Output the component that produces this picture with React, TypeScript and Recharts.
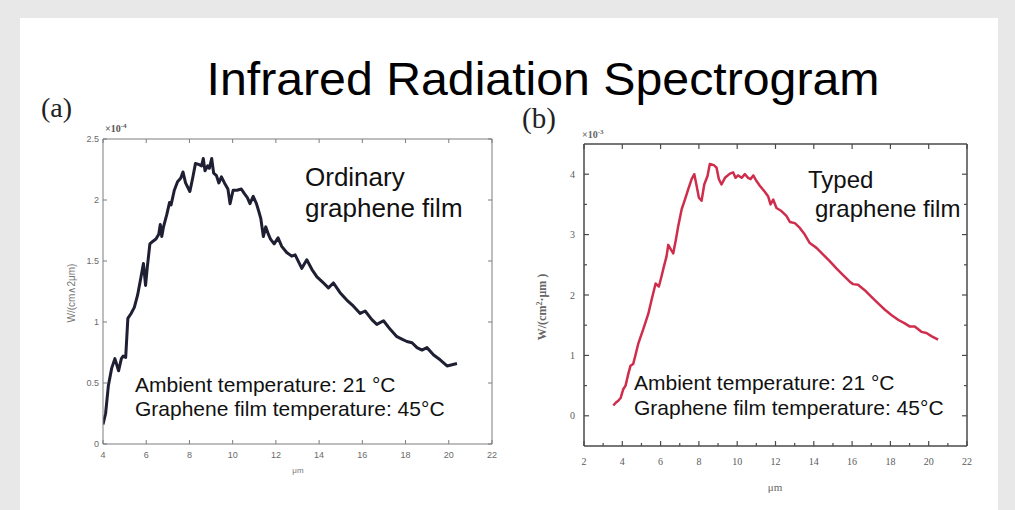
import { LineChart, Line, XAxis, YAxis } from "recharts"

// (a) ordinary graphene film, W/(cm^2 um) x 1e-4
const ordinaryUm = [
  4.0, 4.12, 4.25, 4.4, 4.55, 4.62, 4.72, 4.85, 4.93, 5.05, 5.15, 5.3, 5.45, 5.6, 5.75, 5.87, 5.97, 6.05,
  6.17, 6.3, 6.45, 6.58, 6.65, 6.72, 6.8, 6.95, 7.08, 7.15, 7.3, 7.45, 7.6, 7.7, 7.82, 8.02, 8.15, 8.28,
  8.45, 8.56, 8.64, 8.72, 8.84, 8.92, 9.03, 9.12, 9.25, 9.36, 9.48, 9.62, 9.78, 9.88, 10.02, 10.2, 10.4,
  10.55, 10.68, 10.8, 10.95, 11.1, 11.22, 11.3, 11.42, 11.53, 11.65, 11.75, 11.92, 12.1, 12.27, 12.5,
  12.73, 12.89, 13.2, 13.43, 13.67, 13.9, 14.2, 14.43, 14.66, 14.97, 15.28, 15.59, 15.9, 16.13, 16.44,
  16.67, 16.98, 17.29, 17.6, 17.83, 18.06, 18.3, 18.53, 18.76, 18.99, 19.3, 19.6, 19.92, 20.15, 20.38,
]
const ordinaryW = [
  0.16, 0.25, 0.48, 0.62, 0.7, 0.66, 0.6, 0.7, 0.72, 0.71, 1.03, 1.07, 1.12, 1.22, 1.36, 1.48, 1.3, 1.45,
  1.64, 1.66, 1.68, 1.72, 1.8, 1.7, 1.78, 1.88, 1.98, 1.96, 2.08, 2.15, 2.18, 2.23, 2.14, 2.07, 2.18, 2.3,
  2.29, 2.28, 2.34, 2.24, 2.28, 2.26, 2.34, 2.22, 2.2, 2.14, 2.19, 2.14, 2.09, 1.97, 2.08, 2.08, 2.09,
  2.05, 2.02, 1.97, 2.03, 1.97, 1.9, 1.85, 1.7, 1.78, 1.72, 1.68, 1.64, 1.69, 1.62, 1.57,
  1.54, 1.55, 1.44, 1.51, 1.43, 1.37, 1.32, 1.28, 1.32, 1.24, 1.18, 1.13, 1.07, 1.09, 1.02,
  0.98, 1.01, 0.94, 0.88, 0.86, 0.84, 0.83, 0.79, 0.77, 0.79, 0.73, 0.69, 0.64, 0.65, 0.66,
]

// (b) typed graphene film, W/(cm^2 um) x 1e-3
const typedUm = [
  3.53, 3.67, 3.79, 3.92, 4.05, 4.17, 4.31, 4.43, 4.57, 4.66, 4.83, 5.1, 5.36, 5.53, 5.74, 5.91, 6.05,
  6.17, 6.31, 6.4, 6.54, 6.66, 6.8, 6.92, 7.1, 7.27, 7.44, 7.62, 7.76, 7.88, 8.0, 8.14, 8.28, 8.45, 8.57,
  8.78, 8.92, 9.04, 9.18, 9.36, 9.62, 9.79, 9.91, 10.05, 10.23, 10.4, 10.57, 10.7, 10.84, 11.0, 11.18,
  11.44, 11.62, 11.74, 11.88, 12.05, 12.31, 12.57, 12.75, 13.01, 13.27, 13.53, 13.79, 14.14, 14.49,
  14.83, 15.18, 15.53, 15.88, 16.05, 16.31, 16.66, 17.01, 17.36, 17.7, 18.05, 18.4, 18.75, 19.0, 19.27,
  19.62, 19.88, 20.14, 20.49,
]
const typedW = [
  0.17, 0.22, 0.25, 0.3, 0.44, 0.5, 0.69, 0.83, 0.86, 0.97, 1.19, 1.44, 1.69, 1.92, 2.19, 2.14, 2.31,
  2.47, 2.64, 2.83, 2.75, 2.69, 2.92, 3.14, 3.42, 3.58, 3.75, 3.92, 4.0, 3.81, 3.61, 3.56, 3.83, 3.97, 4.17,
  4.15, 4.11, 3.92, 3.83, 3.94, 4.01, 4.03, 3.94, 3.98, 3.94, 4.0, 3.94, 3.92, 3.98, 3.89, 3.81,
  3.71, 3.63, 3.5, 3.58, 3.44, 3.39, 3.31, 3.21, 3.19, 3.11, 3.0, 2.86, 2.78, 2.67,
  2.56, 2.44, 2.33, 2.22, 2.18, 2.17, 2.08, 1.97, 1.86, 1.76, 1.67, 1.59, 1.53, 1.48, 1.48,
  1.39, 1.37, 1.32, 1.26,
]

const aXTicks = [4, 6, 8, 10, 12, 14, 16, 18, 20, 22]
const aYTicks = [0, 0.5, 1, 1.5, 2, 2.5]
const bXMajor = [2, 4, 6, 8, 10, 12, 14, 16, 18, 20, 22]
const bXTicks = [2, 3, 4, 5, 6, 7, 8, 9, 10, 11, 12, 13, 14, 15, 16, 17, 18, 19, 20, 21, 22]
const bYMajor = [0, 1, 2, 3, 4]
const bYTicks = [0, 0.5, 1, 1.5, 2, 2.5, 3, 3.5, 4]

const ordinaryData = ordinaryUm.map((x, i) => ({ x, y: ordinaryW[i] }))
const typedData = typedUm.map((x, i) => ({ x, y: typedW[i] }))

type Side = "bottom" | "top" | "left" | "right"

function boxTick(
  side: Side,
  majors: number[],
  color: string,
  width: number,
  majorLen: number,
  minorLen: number,
  label?: { font: string; size: number; fill: string; dx: number; dy: number; weight?: string }
) {
  return (props: any) => {
    const { x, y, payload } = props
    const v = payload.value
    const major = majors.includes(v)
    const len = major ? majorLen : minorLen
    let x2 = x
    let y2 = y
    if (side === "bottom") y2 = y - len
    if (side === "top") y2 = y + len
    if (side === "left") x2 = x + len
    if (side === "right") x2 = x - len
    return (
      <g>
        <line x1={x} y1={y} x2={x2} y2={y2} stroke={color} strokeWidth={width} />
        {label && major && (
          <text
            x={x + label.dx}
            y={y + label.dy}
            textAnchor={side === "left" ? "end" : "middle"}
            fontFamily={label.font}
            fontSize={label.size}
            fontWeight={label.weight ?? "normal"}
            fill={label.fill}
          >
            {v}
          </text>
        )}
      </g>
    )
  }
}

const SANS = "'Liberation Sans', Arial, sans-serif"
const SERIF = "'Liberation Serif', 'Times New Roman', serif"

function PanelA() {
  const c = "#7d7d7d"
  const lbl = { font: SANS, size: 9, fill: "#6a6a6a" }
  return (
    <LineChart
      width={1015}
      height={510}
      data={ordinaryData}
      margin={{ top: 138, right: 522, bottom: 46, left: 83 }}
      style={{ position: "absolute", left: 0, top: 0 }}
    >
      <XAxis xAxisId="b" dataKey="x" type="number" domain={[4, 22]} ticks={aXTicks} interval={0}
        allowDataOverflow height={20} tickLine={false} tickSize={0} tickMargin={0}
        axisLine={{ stroke: c, strokeWidth: 1 }}
        tick={boxTick("bottom", aXTicks, c, 1, 4, 2, { ...lbl, dx: 0, dy: 14 })} />
      <XAxis xAxisId="t" dataKey="x" orientation="top" type="number" domain={[4, 22]} ticks={aXTicks} interval={0}
        allowDataOverflow height={1} tickLine={false} tickSize={0} tickMargin={0}
        axisLine={{ stroke: c, strokeWidth: 1 }}
        tick={boxTick("top", aXTicks, c, 1, 4, 2)} />
      <YAxis yAxisId="l" type="number" domain={[0, 2.5]} ticks={aYTicks} interval={0}
        allowDataOverflow width={20} tickLine={false} tickSize={0} tickMargin={0}
        axisLine={{ stroke: c, strokeWidth: 1 }}
        tick={boxTick("left", aYTicks, c, 1, 4, 2, { ...lbl, dx: -4, dy: 3 })} />
      <YAxis yAxisId="r" orientation="right" type="number" domain={[0, 2.5]} ticks={aYTicks} interval={0}
        allowDataOverflow width={1} tickLine={false} tickSize={0} tickMargin={0}
        axisLine={{ stroke: c, strokeWidth: 1 }}
        tick={boxTick("right", aYTicks, c, 1, 4, 2)} />
      <Line xAxisId="t" yAxisId="r" dataKey="y" stroke="none" dot={false} activeDot={false}
        legendType="none" isAnimationActive={false} />
      <Line xAxisId="b" yAxisId="l" dataKey="y" type="linear" stroke="#1f1f33" strokeWidth={3}
        strokeLinejoin="round" dot={false} isAnimationActive={false} />
    </LineChart>
  )
}

function PanelB() {
  const c = "#4a4a4a"
  const lbl = { font: SERIF, size: 10, fill: "#5a5a5a" }
  return (
    <LineChart
      width={1015}
      height={510}
      data={typedData}
      margin={{ top: 143, right: 47, bottom: 44, left: 564 }}
      style={{ position: "absolute", left: 0, top: 0 }}
    >
      <XAxis xAxisId="b" dataKey="x" type="number" domain={[2, 22]} ticks={bXTicks} interval={0}
        allowDataOverflow height={20} tickLine={false} tickSize={0} tickMargin={0}
        axisLine={{ stroke: c, strokeWidth: 1.5 }}
        tick={boxTick("bottom", bXMajor, c, 1.2, 5, 3, { ...lbl, dx: 0, dy: 19 })} />
      <XAxis xAxisId="t" dataKey="x" orientation="top" type="number" domain={[2, 22]} ticks={bXMajor} interval={0}
        allowDataOverflow height={1} tickLine={false} tickSize={0} tickMargin={0}
        axisLine={{ stroke: c, strokeWidth: 1.5 }}
        tick={boxTick("top", bXMajor, c, 1.2, 5, 3)} />
      <YAxis yAxisId="l" type="number" domain={[-0.5, 4.5]} ticks={bYTicks} interval={0}
        allowDataOverflow width={20} tickLine={false} tickSize={0} tickMargin={0}
        axisLine={{ stroke: c, strokeWidth: 1.5 }}
        tick={boxTick("left", bYMajor, c, 1.2, 5, 3, { ...lbl, dx: -9, dy: 3.5 })} />
      <YAxis yAxisId="r" orientation="right" type="number" domain={[-0.5, 4.5]} ticks={bYTicks} interval={0}
        allowDataOverflow width={1} tickLine={false} tickSize={0} tickMargin={0}
        axisLine={{ stroke: c, strokeWidth: 1.5 }}
        tick={boxTick("right", bYMajor, c, 1.2, 5, 3)} />
      <Line xAxisId="t" yAxisId="r" dataKey="y" stroke="none" dot={false} activeDot={false}
        legendType="none" isAnimationActive={false} />
      <Line xAxisId="b" yAxisId="l" dataKey="y" type="linear" stroke="#cf2d4c" strokeWidth={2.5}
        strokeLinejoin="round" dot={false} isAnimationActive={false} />
    </LineChart>
  )
}

function Texts() {
  return (
    <svg width={1015} height={510} style={{ position: "absolute", left: 0, top: 0, pointerEvents: "none" }}>
      <text x={543} y={95} textAnchor="middle" fontFamily={SANS} fontSize={46} fill="#000"
        textLength={673} lengthAdjust="spacingAndGlyphs">
        Infrared Radiation Spectrogram
      </text>
      <text x={41} y={117} fontFamily={SERIF} fontSize={28} fill="#222">(a)</text>
      <text x={522} y={128} fontFamily={SERIF} fontSize={29} fill="#222">(b)</text>

      <text x={105} y={132} fontFamily={SERIF} fontSize={10} fontWeight="bold" fill="#555">
        ×10<tspan dy={-4} fontSize={7}>-4</tspan>
      </text>
      <text x={582} y={138} fontFamily={SERIF} fontSize={10} fontWeight="bold" fill="#666">
        ×10<tspan dy={-4} fontSize={7}>-3</tspan>
      </text>

      <text transform="translate(75,293) rotate(-90)" textAnchor="middle" fontFamily={SANS} fontSize={10} fill="#777">
        W/(cm∧2μm)
      </text>
      <text transform="translate(546,307) rotate(-90)" textAnchor="middle" fontFamily={SERIF} fontSize={12}
        fontWeight="bold" fill="#666">
        W/(cm<tspan dy={-4} fontSize={8}>2</tspan><tspan dy={4}>·μm )</tspan>
      </text>

      <text x={298} y={473} textAnchor="middle" fontFamily={SANS} fontSize={8} fill="#777">μm</text>
      <text x={775} y={491} textAnchor="middle" fontFamily={SERIF} fontSize={11} fill="#666">μm</text>

      <text fontFamily={SANS} fontSize={26} fill="#111">
        <tspan x={305} y={186}>Ordinary</tspan>
        <tspan x={305} y={217}>graphene film</tspan>
      </text>
      <text fontFamily={SANS} fontSize={24} fill="#111">
        <tspan x={808} y={188}>Typed</tspan>
        <tspan x={815} y={217}>graphene film</tspan>
      </text>

      <text fontFamily={SANS} fontSize={21} fill="#111">
        <tspan x={135} y={392}>Ambient temperature: 21 °C</tspan>
        <tspan x={135} y={416}>Graphene film temperature: 45°C</tspan>
      </text>
      <text fontFamily={SANS} fontSize={21} fill="#111">
        <tspan x={634} y={390}>Ambient temperature: 21 °C</tspan>
        <tspan x={634} y={415}>Graphene film temperature: 45°C</tspan>
      </text>
    </svg>
  )
}

export default function App() {
  return (
    <div style={{ position: "absolute", left: 0, top: 0, width: 1015, height: 510, background: "#e8e8e8", overflow: "hidden" }}>
      <div style={{ position: "absolute", left: 20, top: 18, width: 978, height: 492, background: "#fff" }} />
      <PanelA />
      <PanelB />
      <Texts />
    </div>
  )
}
